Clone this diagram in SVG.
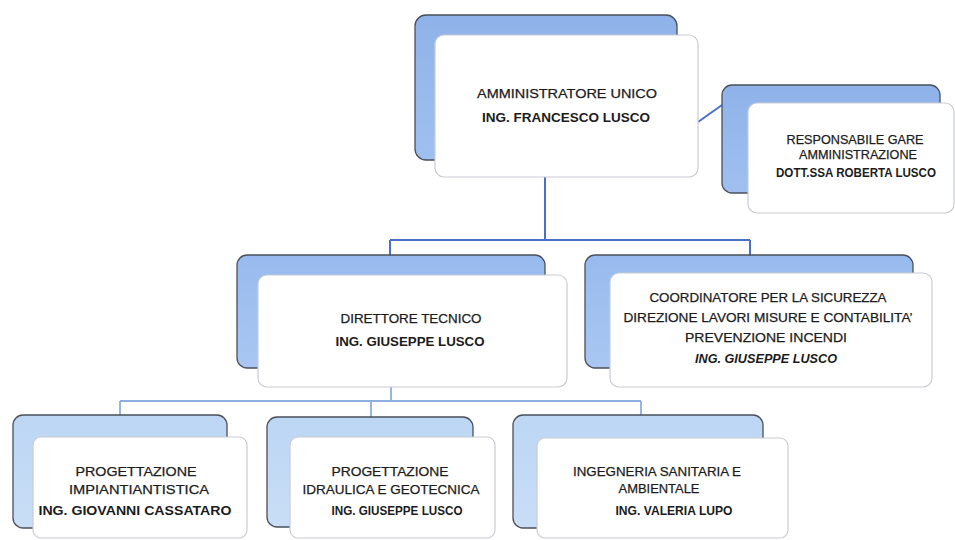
<svg xmlns="http://www.w3.org/2000/svg" width="955" height="540" viewBox="0 0 955 540">
<defs>
<linearGradient id="gTop" x1="0" y1="0" x2="0" y2="1">
<stop offset="0" stop-color="#8fb2ea"/><stop offset="1" stop-color="#9fc0ef"/>
</linearGradient>
<linearGradient id="gMid" x1="0" y1="0" x2="0" y2="1">
<stop offset="0" stop-color="#98baee"/><stop offset="1" stop-color="#a9c7f1"/>
</linearGradient>
<linearGradient id="gLow" x1="0" y1="0" x2="0" y2="1">
<stop offset="0" stop-color="#bcd6f4"/><stop offset="1" stop-color="#c9def6"/>
</linearGradient>
</defs>
<style>
.back{stroke:#4a4f5a;stroke-width:1.3}
.front{fill:#ffffff;stroke:#c8ccd2;stroke-width:1.2}
.t{font-family:"Liberation Sans","Open Sans",Arial,sans-serif;font-size:13px;fill:#1b1b1b;text-anchor:middle;stroke:#1b1b1b;stroke-width:0.25}
.b{font-weight:bold;stroke-width:0}
.i{font-style:italic;font-weight:bold;stroke-width:0}
.s{font-size:12px}
.c1{stroke:#4a6fcb;stroke-width:2;fill:none}
.c2{stroke:#8eaee0;stroke-width:1.8;fill:none}
</style>
<rect width="955" height="540" fill="#ffffff"/>
<g id="connectors">
<path class="c1" d="M545 177 V240 M390 240 H750 M390 240 V255 M750 240 V255"/>
<path class="c1" d="M698 122 L722 105"/>
<path class="c2" d="M391 387 V401 M120 401 H641 M120 401 V416 M371 401 V417 M641 401 V416"/>
</g>
<g id="node-amministratore">
<rect class="back" x="415" y="15" width="262" height="145" rx="11" fill="url(#gTop)"/>
<rect class="front" x="435" y="35" width="263" height="142" rx="9"/>
<text class="t" x="567" y="98" textLength="180" lengthAdjust="spacingAndGlyphs">AMMINISTRATORE UNICO</text>
<text class="t b" x="566" y="122" textLength="168" lengthAdjust="spacingAndGlyphs">ING. FRANCESCO LUSCO</text>
</g>
<g id="node-responsabile">
<rect class="back" x="722" y="85" width="218" height="108" rx="10" fill="url(#gTop)"/>
<rect class="front" x="748" y="103" width="206" height="110" rx="9"/>
<text class="t" x="855" y="144" textLength="137" lengthAdjust="spacingAndGlyphs">RESPONSABILE GARE</text>
<text class="t" x="858" y="159" textLength="118" lengthAdjust="spacingAndGlyphs">AMMINISTRAZIONE</text>
<text class="t b s" x="856" y="177" textLength="160" lengthAdjust="spacingAndGlyphs">DOTT.SSA ROBERTA LUSCO</text>
</g>
<g id="node-direttore">
<rect class="back" x="237" y="255" width="308" height="113" rx="10" fill="url(#gMid)"/>
<rect class="front" x="258" y="275" width="309" height="112" rx="9"/>
<text class="t" x="411" y="323" textLength="141" lengthAdjust="spacingAndGlyphs">DIRETTORE TECNICO</text>
<text class="t b" x="410" y="346" textLength="149" lengthAdjust="spacingAndGlyphs">ING. GIUSEPPE LUSCO</text>
</g>
<g id="node-coordinatore">
<rect class="back" x="585" y="255" width="328" height="113" rx="10" fill="url(#gMid)"/>
<rect class="front" x="610" y="273" width="322" height="114" rx="9"/>
<text class="t" x="768" y="302" textLength="237" lengthAdjust="spacingAndGlyphs">COORDINATORE PER LA SICUREZZA</text>
<text class="t" x="768" y="322" textLength="289" lengthAdjust="spacingAndGlyphs">DIREZIONE LAVORI MISURE E CONTABILITA’</text>
<text class="t" x="766" y="342" textLength="162" lengthAdjust="spacingAndGlyphs">PREVENZIONE INCENDI</text>
<text class="t i" x="766" y="363" textLength="142" lengthAdjust="spacingAndGlyphs">ING. GIUSEPPE LUSCO</text>
</g>
<g id="node-impiantistica">
<rect class="back" x="13" y="415" width="214" height="113" rx="10" fill="url(#gLow)"/>
<rect class="front" x="33" y="437" width="214" height="101" rx="8"/>
<text class="t" x="136" y="476" textLength="121" lengthAdjust="spacingAndGlyphs">PROGETTAZIONE</text>
<text class="t" x="139" y="494" textLength="140" lengthAdjust="spacingAndGlyphs">IMPIANTIANTISTICA</text>
<text class="t b" x="135" y="515" textLength="193" lengthAdjust="spacingAndGlyphs">ING. GIOVANNI CASSATARO</text>
</g>
<g id="node-idraulica">
<rect class="back" x="267" y="417" width="206" height="110" rx="10" fill="url(#gLow)"/>
<rect class="front" x="290" y="437" width="205" height="101" rx="8"/>
<text class="t" x="390" y="476" textLength="117" lengthAdjust="spacingAndGlyphs">PROGETTAZIONE</text>
<text class="t" x="391" y="494" textLength="177" lengthAdjust="spacingAndGlyphs">IDRAULICA E GEOTECNICA</text>
<text class="t b" x="397" y="515" textLength="131" lengthAdjust="spacingAndGlyphs">ING. GIUSEPPE LUSCO</text>
</g>
<g id="node-sanitaria">
<rect class="back" x="513" y="415" width="250" height="113" rx="10" fill="url(#gLow)"/>
<rect class="front" x="537" y="438" width="251" height="100" rx="8"/>
<text class="t" x="657" y="476" textLength="168" lengthAdjust="spacingAndGlyphs">INGEGNERIA SANITARIA E</text>
<text class="t" x="659" y="493" textLength="81" lengthAdjust="spacingAndGlyphs">AMBIENTALE</text>
<text class="t b" x="674" y="515" textLength="117" lengthAdjust="spacingAndGlyphs">ING. VALERIA LUPO</text>
</g>
</svg>
